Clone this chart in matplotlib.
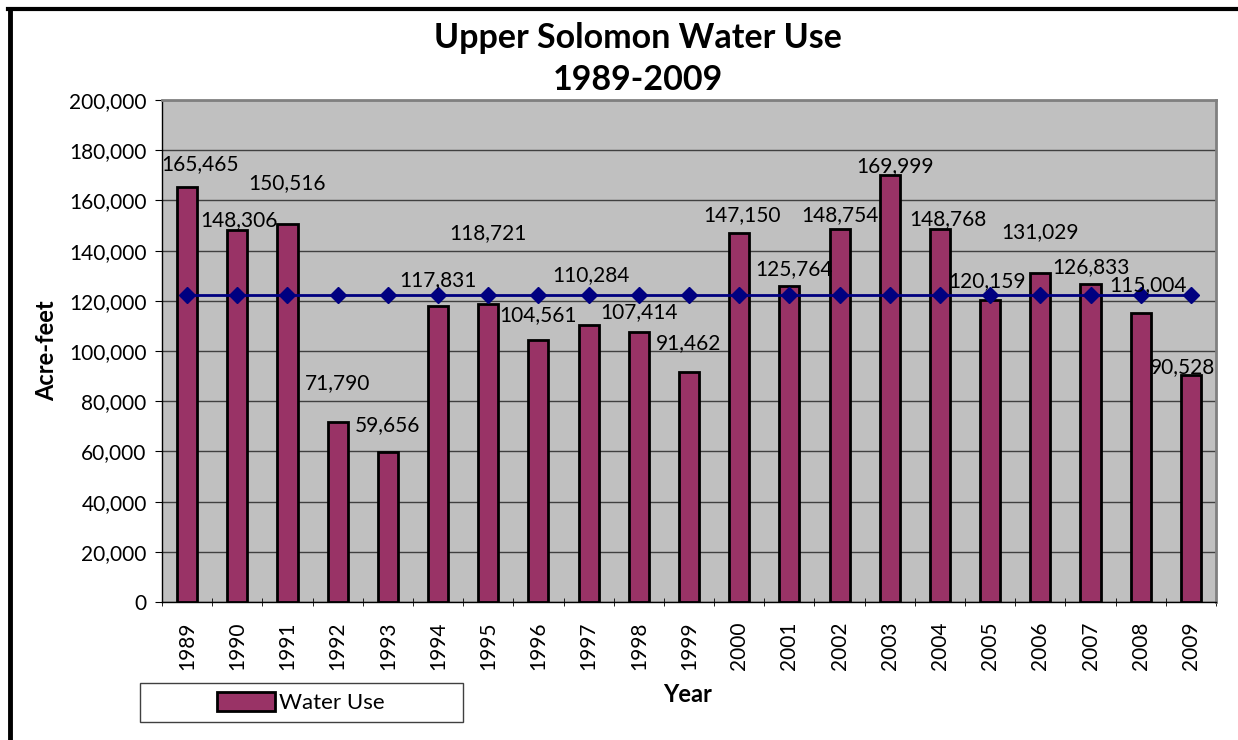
import numpy as np
import matplotlib
matplotlib.use("Agg")
import matplotlib.pyplot as plt
from matplotlib.ticker import FuncFormatter, MultipleLocator
from matplotlib.patches import Rectangle

plt.rcParams['font.family'] = ['Lato', 'DejaVu Sans']

# Data
years = [str(y) for y in range(1989, 2010)]
water_use = [165465, 148306, 150516, 71790, 59656, 117831, 118721, 104561,
             110284, 107414, 91462, 147150, 125764, 148754, 169999, 148768,
             120159, 131029, 126833, 115004, 90528]

# where Excel left the data labels (label centre, data units / category units)
label_y = [174500, 152200, 166900, 87200, 70500, 128300, 147000, 114300,
           130300, 115500, 103200, 154200, 132700, 154200, 173700, 152600,
           127900, 147400, 133500, 126300, 93600]
label_dx = [0.26, 0.04, 0, 0, 0, 0, 0, 0, 0.05, 0, 0, 0.06, 0.1, 0, 0.1,
            0.16, -0.06, 0, 0, 0.14, -0.16]

avg = np.mean(water_use)

fig = plt.figure(figsize=(12.38, 7.40), dpi=100)
W, H = 1238, 740
ax = fig.add_axes([162 / W, (H - 602) / H, (1216 - 162) / W, (602 - 100) / H])
ax.set_facecolor('#c0c0c0')

x = np.arange(len(years))
ax.bar(x, water_use, width=0.4, color='#993366', edgecolor='black',
       linewidth=2, zorder=3, label='Water Use')
ax.plot(x, [avg] * len(x), color='#000080', lw=2, marker='D', ms=8, zorder=4)

for i, v in enumerate(water_use):
    ax.text(i + label_dx[i], label_y[i], f"{v:,}", ha='center', va='center',
            fontsize=15, zorder=5)

ax.set_xlim(-0.5, len(years) - 0.5)
ax.set_ylim(0, 200000)
ax.yaxis.set_major_locator(MultipleLocator(20000))
ax.yaxis.set_major_formatter(FuncFormatter(lambda v, p: f"{int(v):,}"))
ax.grid(axis='y', color='#404040', lw=1, zorder=1)

ax.set_xticks(x)
ax.set_xticklabels(years, rotation=90, fontsize=15)
ax.tick_params(axis='x', length=0, pad=14)
ax.set_xticks(np.arange(-0.5, len(years)), minor=True)
ax.tick_params(axis='x', which='minor', length=6, direction='inout', color='black')
ax.tick_params(axis='y', labelsize=15, length=5, direction='out', pad=6)

for s in ['top', 'right']:
    ax.spines[s].set_color('#808080')
    ax.spines[s].set_linewidth(2)
for s in ['left', 'bottom']:
    ax.spines[s].set_color('black')
    ax.spines[s].set_linewidth(1)

ax.set_ylabel('Acre-feet', fontsize=17, fontweight='bold', labelpad=8)
fig.text(688 / W, 1 - 695 / H, 'Year', ha='center', va='center',
         fontsize=17, fontweight='bold')
fig.text(638 / W, 1 - 38 / H, 'Upper Solomon Water Use', ha='center',
         va='center', fontsize=24.5, fontweight='bold')
fig.text(638 / W, 1 - 80 / H, '1989-2009', ha='center', va='center',
         fontsize=24.5, fontweight='bold')

# legend box
fig.add_artist(Rectangle((140 / W, 1 - 722 / H), 323 / W, 39 / H, fill=False,
                         edgecolor='#404040', lw=1, transform=fig.transFigure))
fig.legend(loc='center', bbox_to_anchor=(301 / W, 1 - 702.5 / H),
           fontsize=16, frameon=False, handlelength=2.6, handleheight=0.9,
           handletextpad=0.2, borderaxespad=0)

# outer chart border (only left and top visible)
fig.add_artist(plt.Line2D([9.5 / W, 9.5 / W], [0, 1 - 8.5 / H], color='black', lw=3.5,
                          transform=fig.transFigure))
fig.add_artist(plt.Line2D([8 / W, 1], [1 - 8.5 / H, 1 - 8.5 / H], color='black', lw=3,
                          transform=fig.transFigure))

fig.savefig('out.png', dpi=100)
